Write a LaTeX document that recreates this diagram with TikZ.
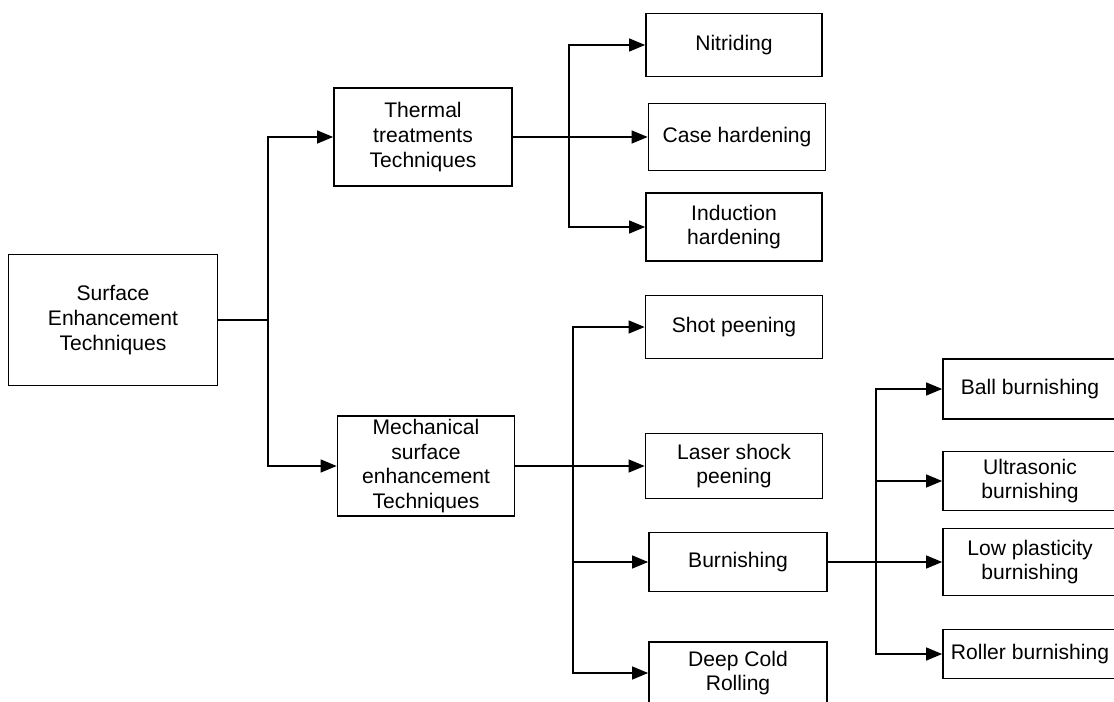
\documentclass[tikz,border=0pt]{standalone}
\usepackage{fontspec}
\setmainfont{Liberation Sans}
\usetikzlibrary{arrows.meta}

\begin{document}
\begin{tikzpicture}[x=0.02cm, y=-0.02cm,
    box/.style={draw, line width=1pt, align=center, inner sep=2pt,
      font=\fontsize{12}{14}\selectfont},
    link/.style={line width=0.7pt},
    >={Triangle[length=0.32cm, width=0.26cm]}]

    \useasboundingbox (0,0) rectangle (1114,702);
    \clip (0,0) rectangle (1114,702);

    % first level
    \node [box, minimum width=209*0.02cm, minimum height=131*0.02cm] (surf) at (113,320)
      {Surface\\Enhancement\\Techniques};
    \node [box, minimum width=178*0.02cm, minimum height=98*0.02cm] (therm) at (423,137)
      {Thermal\\treatments\\Techniques};
    \node [box, minimum width=177*0.02cm, minimum height=98*0.02cm] (mech) at (426,466)
      {Mechanical\\surface\\enhancement\\Techniques};

    % thermal branch
    \node [box, minimum width=176*0.02cm, minimum height=63*0.02cm] (nitr) at (734,45) {Nitriding};
    \node [box, minimum width=177*0.02cm, minimum height=67*0.02cm] (case) at (737,137) {Case hardening};
    \node [box, minimum width=176*0.02cm, minimum height=68*0.02cm] (induc) at (734,227)
      {Induction\\hardening};

    % mechanical branch
    \node [box, minimum width=177*0.02cm, minimum height=63*0.02cm] (shot) at (734,327) {Shot peening};
    \node [box, minimum width=177*0.02cm, minimum height=65*0.02cm] (laser) at (734,466)
      {Laser shock\\peening};
    \node [box, minimum width=178*0.02cm, minimum height=59*0.02cm] (burn) at (738,562) {Burnishing};
    \node [box, minimum width=178*0.02cm, minimum height=62*0.02cm] (deep) at (738,673)
      {Deep Cold\\Rolling};

    % burnishing branch
    \node [box, minimum width=174*0.02cm, minimum height=60*0.02cm] (ball) at (1030,389) {Ball burnishing};
    \node [box, minimum width=174*0.02cm, minimum height=59*0.02cm] (ultra) at (1030,481)
      {Ultrasonic\\burnishing};
    \node [box, minimum width=174*0.02cm, minimum height=67*0.02cm] (lowp) at (1030,562)
      {Low plasticity\\burnishing};
    \node [box, minimum width=174*0.02cm, minimum height=49*0.02cm] (roll) at (1030,654)
      {Roller burnishing};

    % junctions
    \coordinate (j1) at (268,320);
    \coordinate (j2) at (569,137);
    \coordinate (j3) at (573,466);
    \coordinate (j4) at (876,562);

    \draw [link] (surf.east) -- (j1);
    \foreach \n in {therm,mech}
      \draw [link] [->] (j1) |- (\n.west);

    \draw [link] (therm.east) -- (j2);
    \foreach \n in {nitr,case,induc}
      \draw [link] [->] (j2) |- (\n.west);

    \draw [link] (mech.east) -- (j3);
    \foreach \n in {shot,laser,burn,deep}
      \draw [link] [->] (j3) |- (\n.west);

    \draw [link] (burn.east) -- (j4);
    \foreach \n in {ball,ultra,lowp,roll}
      \draw [link] [->] (j4) |- (\n.west);
\end{tikzpicture}
\end{document}
